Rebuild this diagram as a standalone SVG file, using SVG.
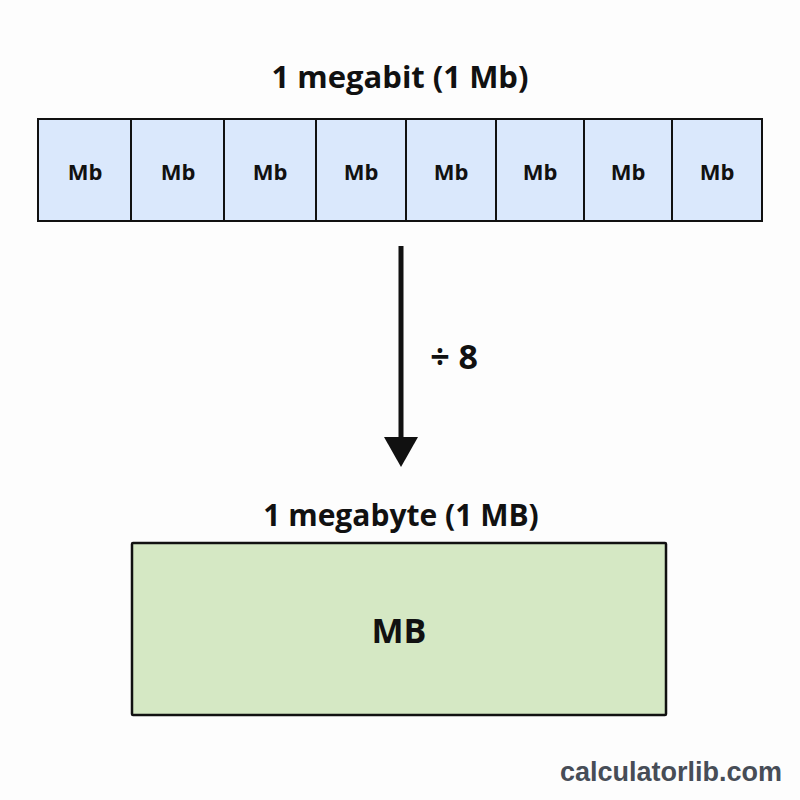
<svg xmlns="http://www.w3.org/2000/svg" width="800" height="800" viewBox="0 0 800 800">
<style>
.t{font-family:"Open Sans","Noto Sans",sans-serif;font-weight:700;fill:#111;text-anchor:middle}
.cell{fill:#dae8fc;stroke:#111;stroke-width:2}
.lbl{font-family:"Open Sans","Noto Sans",sans-serif;font-weight:700;font-size:22px;fill:#111;text-anchor:middle}
</style>
<defs>
<marker id="ah" viewBox="0 0 30 34" refX="0" refY="17" markerWidth="30" markerHeight="34" markerUnits="userSpaceOnUse" orient="auto">
<path d="M0,0 L30,17 L0,34 Z" fill="#111"/>
</marker>
</defs>
<rect width="800" height="800" fill="#fdfdfd"/>
<text class="t" x="400" y="88" font-size="31">1 megabit (1 Mb)</text>
<g id="megabit">
<rect x="38" y="119" width="724" height="102" class="cell"/>
<g id="cell1"><rect x="38" y="119" width="93" height="102" class="cell"/><text class="lbl" x="85" y="180">Mb</text></g>
<g id="cell2"><rect x="131" y="119" width="93" height="102" class="cell"/><text class="lbl" x="178" y="180">Mb</text></g>
<g id="cell3"><rect x="224" y="119" width="92" height="102" class="cell"/><text class="lbl" x="270" y="180">Mb</text></g>
<g id="cell4"><rect x="316" y="119" width="90" height="102" class="cell"/><text class="lbl" x="361" y="180">Mb</text></g>
<g id="cell5"><rect x="406" y="119" width="90" height="102" class="cell"/><text class="lbl" x="451" y="180">Mb</text></g>
<g id="cell6"><rect x="496" y="119" width="88" height="102" class="cell"/><text class="lbl" x="540" y="180">Mb</text></g>
<g id="cell7"><rect x="584" y="119" width="88" height="102" class="cell"/><text class="lbl" x="628" y="180">Mb</text></g>
<g id="cell8"><rect x="672" y="119" width="90" height="102" class="cell"/><text class="lbl" x="717" y="180">Mb</text></g>
</g>
<g id="connectors">
<line x1="401" y1="246" x2="401" y2="437" stroke="#111" stroke-width="5" marker-end="url(#ah)"/>
<text class="t" x="454" y="369" font-size="34">÷ 8</text>
</g>
<text class="t" x="401" y="526" font-size="30">1 megabyte (1 MB)</text>
<g id="megabyte">
<rect x="132" y="543" width="534" height="172" fill="#d5e8c4" stroke="#111" stroke-width="2.5" rx="1"/>
<text class="t" x="399" y="643" font-size="34">MB</text>
</g>
<text x="782" y="781" font-family="Liberation Sans,Arial,sans-serif" font-weight="700" font-size="27" fill="#474d57" text-anchor="end">calculatorlib.com</text>
</svg>
